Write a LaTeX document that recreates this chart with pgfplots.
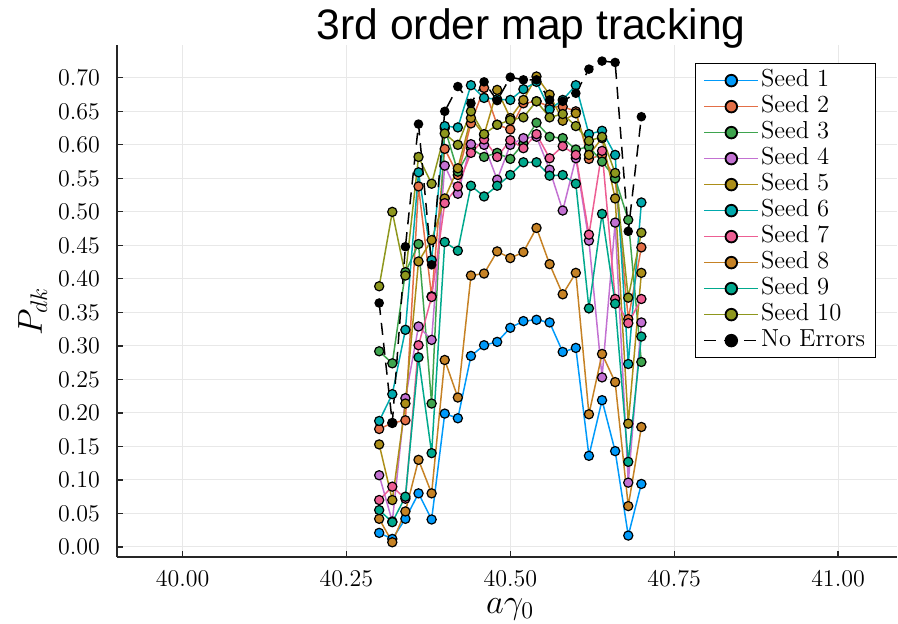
\documentclass[border=0pt]{standalone}
\usepackage{pgfplots}
\pgfplotsset{compat=1.18}
\usepackage{pgfplotstable}
\usepackage{fontspec}
\newfontfamily\titlefont{Liberation Sans}

% default Plots.jl palette
\definecolor{c1}{HTML}{009AFA}
\definecolor{c2}{HTML}{E36F47}
\definecolor{c3}{HTML}{3EA44E}
\definecolor{c4}{HTML}{C371D2}
\definecolor{c5}{HTML}{AC8E18}
\definecolor{c6}{HTML}{00A9AD}
\definecolor{c7}{HTML}{ED5E93}
\definecolor{c8}{HTML}{C68225}
\definecolor{c9}{HTML}{00A98D}
\definecolor{c10}{HTML}{8E971D}

% P_dk for each seed and for the error-free run
\pgfplotstableread{
x     s1    s2    s3    s4    s5    s6    s7    s8    s9    s10   ne
40.30 0.021 0.176 0.292 0.107 0.153 0.188 0.070 0.042 0.055 0.389 0.364
40.32 0.012 0.185 0.274 0.038 0.070 0.228 0.090 0.007 0.037 0.500 0.185
40.34 0.042 0.189 0.410 0.222 0.214 0.324 0.072 0.053 0.075 0.405 0.448
40.36 0.080 0.538 0.452 0.329 0.426 0.559 0.301 0.130 0.283 0.582 0.631
40.38 0.041 0.374 0.214 0.309 0.458 0.428 0.373 0.080 0.140 0.542 0.421
40.40 0.199 0.594 0.625 0.569 0.520 0.628 0.513 0.279 0.455 0.617 0.650
40.42 0.192 0.555 0.560 0.527 0.565 0.626 0.538 0.223 0.442 0.600 0.687
40.44 0.285 0.632 0.595 0.601 0.640 0.689 0.588 0.405 0.539 0.650 0.662
40.46 0.301 0.685 0.582 0.600 0.615 0.670 0.608 0.408 0.523 0.616 0.694
40.48 0.306 0.630 0.588 0.548 0.682 0.668 0.582 0.441 0.539 0.630 0.666
40.50 0.327 0.623 0.579 0.600 0.640 0.667 0.607 0.431 0.555 0.637 0.701
40.52 0.337 0.662 0.602 0.610 0.667 0.683 0.595 0.440 0.574 0.641 0.697
40.54 0.339 0.665 0.633 0.612 0.702 0.694 0.616 0.476 0.574 0.665 0.697
40.56 0.335 0.657 0.612 0.563 0.675 0.653 0.580 0.422 0.554 0.641 0.667
40.58 0.291 0.657 0.610 0.502 0.636 0.667 0.598 0.377 0.555 0.646 0.665
40.60 0.297 0.650 0.593 0.580 0.647 0.689 0.585 0.409 0.542 0.628 0.677
40.62 0.136 0.579 0.597 0.457 0.585 0.616 0.466 0.198 0.356 0.606 0.713
40.64 0.219 0.585 0.575 0.253 0.610 0.621 0.591 0.288 0.497 0.612 0.725
40.66 0.143 0.550 0.550 0.484 0.520 0.585 0.370 0.246 0.363 0.558 0.723
40.68 0.017 0.340 0.488 0.096 0.184 0.273 0.334 0.061 0.127 0.372 0.471
40.70 0.094 0.447 0.276 0.335 0.409 0.514 0.370 0.179 0.314 0.469 0.642
}\pdk

\pgfplotsset{
  seed/.style={color=#1, line width=0.75pt, mark=*, mark size=2.3pt,
    mark options={solid, draw=black, fill=#1, line width=0.6pt}},
}

\begin{document}
\begin{tikzpicture}
\path[use as bounding box] (-58.5pt,-33pt) rectangle (390.5pt,278.5pt);
\begin{axis}[
  at={(0pt,0pt)}, anchor=south west,
  scale only axis, width=390pt, height=256pt,
  xmin=39.9, xmax=41.09, ymin=-0.015, ymax=0.749,
  axis x line=bottom, axis y line=left,
  axis line style={-, line width=0.8pt, black!85},
  xtick={40,40.25,40.5,40.75,41},
  ytick={0,0.05,0.10,0.15,0.20,0.25,0.30,0.35,0.40,0.45,0.50,0.55,0.60,0.65,0.70},
  scaled x ticks=false, scaled y ticks=false,
  xticklabel={\pgfmathprintnumber[fixed,fixed zerofill,precision=2]{\tick}},
  yticklabel={\pgfmathprintnumber[fixed,fixed zerofill,precision=2]{\tick}},
  tick align=inside, major tick length=3pt,
  tick style={black!85, line width=0.6pt},
  grid=major, grid style={black!9, line width=0.5pt},
  tick label style={font=\fontsize{12}{14}\selectfont},
  xticklabel style={inner sep=1pt, yshift=-6pt},
  yticklabel style={xshift=-5pt},
  title={3rd order map tracking},
  title style={at={(rel axis cs:0.531,1)}, anchor=base, yshift=-3.5pt,
    font=\titlefont\fontsize{21.3}{25}\selectfont},
  xlabel={$a\gamma_0$},
  xlabel style={at={(rel axis cs:0.504,-0.11)}, anchor=base, inner sep=0pt,
    font=\fontsize{18}{20}\selectfont},
  ylabel={$P_{dk}$},
  ylabel style={at={(rel axis cs:-0.108,0.48)}, anchor=center,
    font=\fontsize{18}{20}\selectfont},
  legend style={at={(rel axis cs:0.973,0.965)}, anchor=north east,
    draw=black, line width=0.7pt, fill=white,
    font=\fontsize{12.3}{13}\selectfont,
    inner xsep=4pt, inner ysep=2pt, row sep=0pt,
    nodes={inner sep=1pt, text height=8.4pt, text depth=2.6pt},
    cells={anchor=west}},
  legend image code/.code={
    \draw[mark repeat=2, mark phase=2, mark size=2.9pt,
          every mark/.append style={line width=0.9pt}]
      plot coordinates {(0pt,0pt) (13.5pt,0pt) (27pt,0pt)};},
]
\addplot[seed=c1]  table[x=x, y=s1]  {\pdk}; \addlegendentry{Seed 1}
\addplot[seed=c2]  table[x=x, y=s2]  {\pdk}; \addlegendentry{Seed 2}
\addplot[seed=c3]  table[x=x, y=s3]  {\pdk}; \addlegendentry{Seed 3}
\addplot[seed=c4]  table[x=x, y=s4]  {\pdk}; \addlegendentry{Seed 4}
\addplot[seed=c5]  table[x=x, y=s5]  {\pdk}; \addlegendentry{Seed 5}
\addplot[seed=c6]  table[x=x, y=s6]  {\pdk}; \addlegendentry{Seed 6}
\addplot[seed=c7]  table[x=x, y=s7]  {\pdk}; \addlegendentry{Seed 7}
\addplot[seed=c8]  table[x=x, y=s8]  {\pdk}; \addlegendentry{Seed 8}
\addplot[seed=c9]  table[x=x, y=s9]  {\pdk}; \addlegendentry{Seed 9}
\addplot[seed=c10] table[x=x, y=s10] {\pdk}; \addlegendentry{Seed 10}
\addplot[black, line width=0.75pt, dash pattern=on 6pt off 4pt,
  mark=*, mark size=2pt, mark options={solid, fill=black}]
  table[x=x, y=ne] {\pdk}; \addlegendentry{No Errors}
\end{axis}
\end{tikzpicture}
\end{document}
